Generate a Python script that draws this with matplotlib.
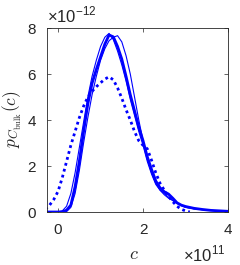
import matplotlib
matplotlib.use('Agg')
import matplotlib.pyplot as plt

# valores en unidades de 1e11 (x) y 1e-12 (y)
x_grueso = [-0.3, 0.0, 0.1, 0.2, 0.3, 0.4, 0.5, 0.6, 0.7, 0.8, 0.9, 1.0, 1.1, 1.2, 1.3, 1.4, 1.5,
            1.6, 1.7, 1.8, 1.9, 2.0, 2.1, 2.2, 2.3, 2.4, 2.5, 2.6, 2.7, 2.8, 2.9, 3.0, 3.2, 3.4,
            3.6, 3.8, 4.0]
y_grueso = [0, 0, 0.01, 0.08, 0.3, 1.1, 2.2, 3.5, 4.7, 5.6, 6.2, 6.75, 7.3, 7.7, 7.62, 7.2, 6.65,
            5.9, 5.1, 4.4, 3.7, 3.1, 2.4, 1.85, 1.35, 1.05, 0.88, 0.78, 0.6, 0.4, 0.3, 0.24, 0.16,
            0.11, 0.07, 0.05, 0.03]

x_fino1 = [-0.3, 0.0, 0.1, 0.2, 0.3, 0.4, 0.5, 0.6, 0.7, 0.8, 0.9, 1.0, 1.1, 1.2, 1.3, 1.4, 1.5,
           1.6, 1.7, 1.8, 1.9, 2.0, 2.1, 2.2, 2.3, 2.4, 2.5, 2.6, 2.7, 2.8, 2.9, 3.0, 3.2, 3.4,
           3.6, 3.8, 4.0]
y_fino1 = [0, 0, 0.05, 0.25, 0.8, 1.7, 2.8, 3.9, 5.0, 5.9, 6.6, 7.2, 7.6, 7.77, 7.5, 7.0, 6.4,
           5.7, 4.9, 4.2, 3.5, 2.9, 2.2, 1.65, 1.2, 0.95, 0.75, 0.6, 0.5, 0.38, 0.28, 0.2, 0.14,
           0.1, 0.07, 0.05, 0.03]

x_fino2 = [-0.3, 0.0, 0.1, 0.2, 0.3, 0.4, 0.5, 0.6, 0.7, 0.8, 0.9, 1.0, 1.1, 1.2, 1.3, 1.4, 1.5,
           1.6, 1.7, 1.8, 1.9, 2.0, 2.1, 2.2, 2.3, 2.4, 2.5, 2.6, 2.7, 2.8, 2.9, 3.0, 3.2, 3.4,
           3.6, 3.8, 4.0]
y_fino2 = [0, 0, 0, 0.02, 0.2, 0.8, 1.8, 3.0, 4.1, 5.1, 5.9, 6.6, 7.1, 7.45, 7.6, 7.67, 7.4,
           6.8, 6.0, 5.0, 4.0, 3.1, 2.3, 1.7, 1.25, 0.95, 0.8, 0.65, 0.5, 0.38, 0.28, 0.21, 0.14,
           0.1, 0.07, 0.05, 0.03]

x_punteado = [-0.3, -0.2, -0.1, 0.0, 0.1, 0.2, 0.3, 0.4, 0.5, 0.6, 0.7, 0.8, 0.9, 1.0, 1.1, 1.2,
              1.3, 1.4, 1.5, 1.6, 1.7, 1.8, 1.9, 2.0, 2.1, 2.2, 2.3, 2.4, 2.5, 2.6, 2.7, 2.8, 2.9,
              3.0, 3.1]
y_punteado = [0.12, 0.3, 0.55, 0.9, 1.5, 2.2, 2.9, 3.5, 4.1, 4.6, 5.0, 5.25, 5.45, 5.62, 5.78,
              5.88, 5.75, 5.4, 4.95, 4.45, 4.0, 3.5, 3.1, 2.9, 2.75, 2.25, 1.7, 1.25, 0.95, 0.68,
              0.45, 0.25, 0.12, 0.05, 0.0]

plt.rcParams['font.family'] = ['Liberation Sans', 'DejaVu Sans']
plt.rcParams['mathtext.fontset'] = 'cm'
plt.rcParams['mathtext.rm'] = 'Liberation Sans'
gris = (0.15, 0.15, 0.15)
azul = (0, 0, 1)

fig = plt.figure(figsize=(2.4, 2.65), dpi=100)
ax = fig.add_axes([0.196, 0.2, 0.754, 0.694])

ax.plot(x_fino1, y_fino1, color=azul, lw=0.8)
ax.plot(x_fino2, y_fino2, color=azul, lw=0.8)
ax.plot(x_grueso, y_grueso, color=azul, lw=2.0)
ax.plot(x_punteado, y_punteado, color=azul, lw=2.0, linestyle=(0, (1, 1.2)))

ax.set_xlim(-0.26, 4)
ax.set_ylim(0, 8)
ax.set_xticks([0, 2, 4])
ax.set_yticks([0, 2, 4, 6, 8])
ax.tick_params(direction='in', top=True, right=True, length=3, width=0.5, colors=gris,
               labelsize=11, labelcolor=gris)
ax.tick_params(axis='x', pad=8)
ax.tick_params(axis='y', pad=8)
for s in ax.spines.values():
    s.set_color(gris)
    s.set_linewidth(0.6)

ax.set_xlabel('$c$', fontsize=13, color=gris)
ax.set_ylabel(r'$p_{C_{\rm bulk}}(c)$', fontsize=12.5, color=gris)
ax.xaxis.set_label_coords(0.48, -0.185)
ax.yaxis.set_label_coords(-0.125, 0.505)

fig.text(0.196, 0.914, r'$\times$10$^{-12}$', fontsize=12, ha='left', va='baseline',
         color=gris, math_fontfamily='custom')
fig.text(0.94, 0.013, r'$\times$10$^{11}$', fontsize=12, ha='right', va='baseline',
         color=gris, math_fontfamily='custom')

fig.savefig('out.png', dpi=100)
